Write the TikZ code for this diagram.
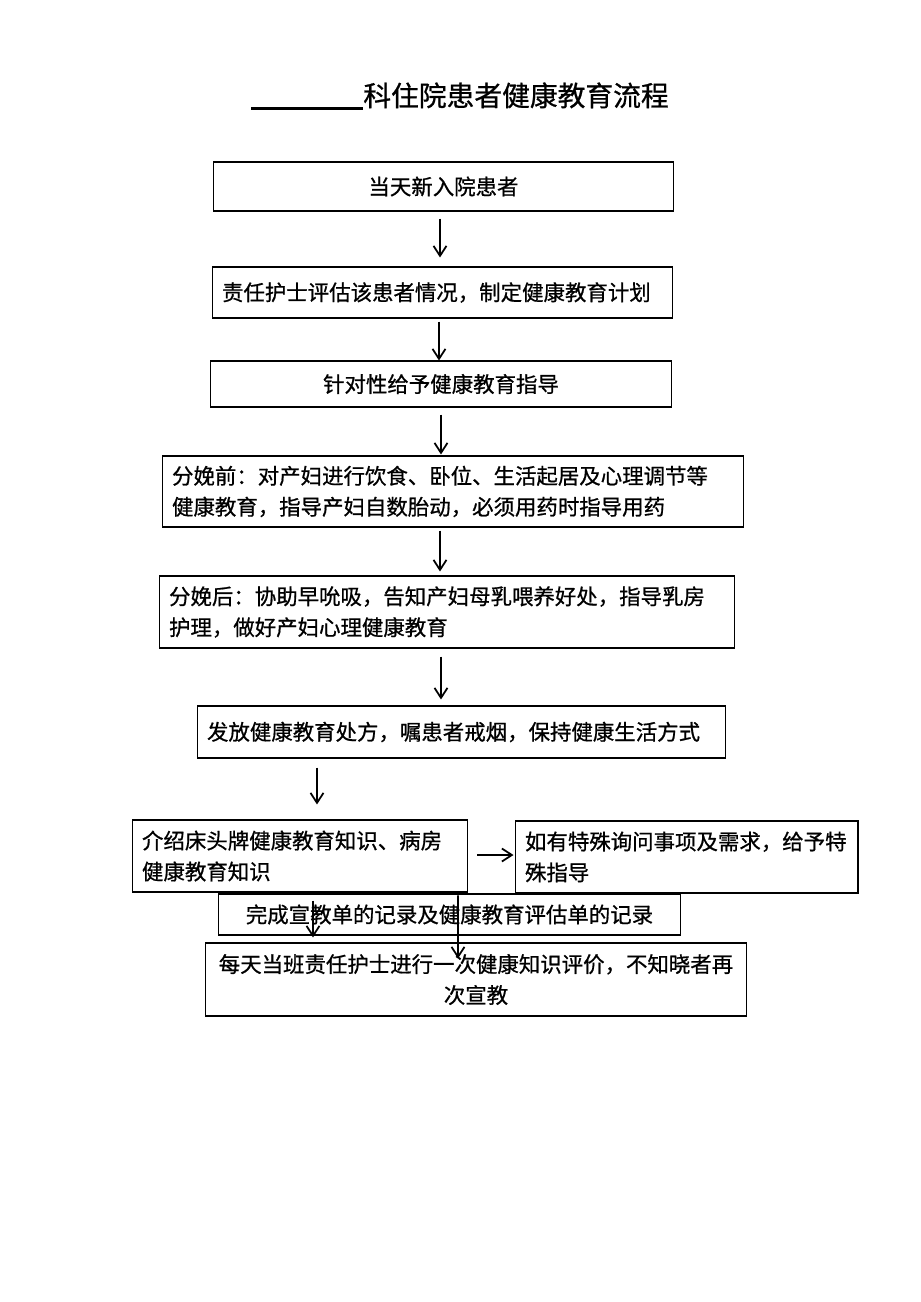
\documentclass[tikz,border=0pt]{standalone}
\usepackage{fontspec}
\setmainfont{Noto Sans CJK SC}[FakeBold=0.8]
\usetikzlibrary{arrows.meta,calc}
\tikzset{
	khung/.style={draw, line width=0.6pt, inner xsep=0.2cm, inner ysep=0pt,
		font=\fontsize{12.2}{17.6}\selectfont},
	muiten/.style={-{Straight Barb[length=2mm,width=2.6mm]}, line width=1pt},
}
\begin{document}
\begin{tikzpicture}[x=0.02cm, y=-0.02cm]
	\useasboundingbox (0,0) rectangle (920,1302);
	% tieu de
	\node[anchor=base west, inner sep=0pt, font=\fontsize{15.8}{18}\selectfont]
		(tieude) at (363,106) {科住院患者健康教育流程};
	\draw[line width=1.7pt] ($(tieude.base west)+(-112,2.5)$) -- ($(tieude.base west)+(0,2.5)$);
	% cac khung
	\node[khung, minimum width=9.22cm, minimum height=0.98cm] (ruyuan) at (443.5,186.5) {当天新入院患者};
	\node[khung, text width=8.82cm, align=left, minimum height=1.02cm] (pinggu) at (442.5,292.5) {责任护士评估该患者情况，制定健康教育计划};
	\node[khung, minimum width=9.24cm, minimum height=0.92cm] (zhidao) at (441,384) {针对性给予健康教育指导};
	\node[khung, text width=11.24cm, align=left, minimum height=1.42cm] (qian) at (453,491.5)
		{分娩前：对产妇进行饮食、卧位、生活起居及心理调节等\\健康教育，指导产妇自数胎动，必须用药时指导用药};
	\node[khung, text width=11.12cm, align=left, minimum height=1.44cm] (hou) at (447,612)
		{分娩后：协助早吮吸，告知产妇母乳喂养好处，指导乳房\\护理，做好产妇心理健康教育};
	\node[khung, text width=10.18cm, align=left, minimum height=1.04cm] (chufang) at (461.5,732)
		{发放健康教育处方，嘱患者戒烟，保持健康生活方式};
	\node[khung, text width=6.32cm, align=left, minimum height=1.44cm] (jieshao) at (300,856)
		{介绍床头牌健康教育知识、病房\\健康教育知识};
	\node[khung, text width=6.46cm, align=left, minimum height=1.44cm] (teshu) at (686.5,857)
		{如有特殊询问事项及需求，给予特\\殊指导};
	\node[khung, minimum width=9.26cm, minimum height=0.82cm] (jilu) at (449.5,914.5)
		{完成宣教单的记录及健康教育评估单的记录};
	\node[khung, text width=10.44cm, align=center, minimum height=1.46cm] (pingjia) at (476,979.5)
		{每天当班责任护士进行一次健康知识评价，不知晓者再\\次宣教};
	% mui ten
	\draw[muiten] ($(ruyuan.south)+(-3.5,7)$) -- ($(pinggu.north)+(-2.5,-9)$);
	\draw[muiten] ($(pinggu.south)+(-3.5,3)$) -- ($(zhidao.north)+(-2,0)$);
	\draw[muiten] ($(zhidao.south)+(0,7)$) -- ($(qian.north)+(-12,-1)$);
	\draw[muiten] ($(qian.south)+(-13,3)$) -- ($(hou.north)+(-7,-4)$);
	\draw[muiten] ($(hou.south)+(-6,8)$) -- ($(chufang.north)+(-20.5,-6)$);
	\draw[muiten] ($(chufang.south)+(-144.5,9)$) -- ($(jieshao.north)+(17,-15)$);
	\draw[muiten] ($(jieshao.east)+(9,-1)$) -- ($(teshu.west)+(-1,-2)$);
	\draw[muiten] ($(jieshao.south)+(13,8)$) -- ($(pingjia.north)+(-163,-5)$);
	\draw[muiten] ($(jilu.north)+(8.5,2)$) -- ($(pingjia.north)+(-18,16)$);
\end{tikzpicture}
\end{document}
